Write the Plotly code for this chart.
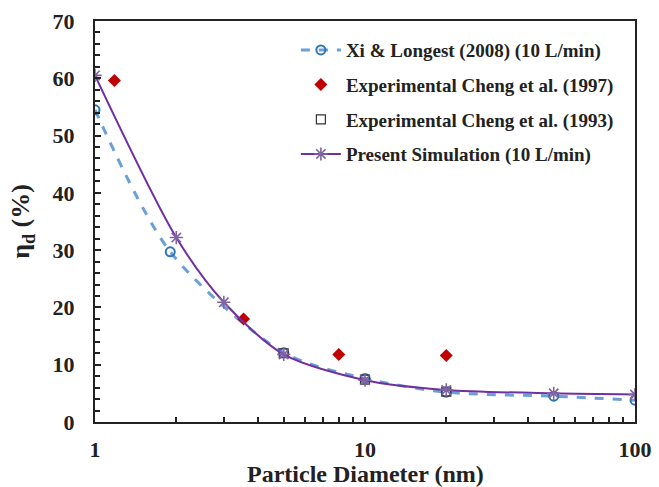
import plotly.graph_objects as go

# Deposition efficiency vs particle diameter
xi_d = [1, 1.9, 5, 10, 20, 50, 100]
xi_eff = [54.5, 29.7, 12.1, 7.6, 5.2, 4.5, 3.8]

cheng97_d = [1.18, 3.55, 8, 20]
cheng97_eff = [59.6, 18.0, 11.8, 11.6]

cheng93_d = [5, 10, 20]
cheng93_eff = [12.0, 7.4, 5.3]

sim_d = [1, 2, 3, 5, 10, 20, 50, 100]
sim_eff = [60.5, 32.2, 20.9, 11.8, 7.3, 5.6, 5.0, 4.8]

x_major = [1, 10, 100]
x_minor = [m * d for d in (1, 10) for m in range(2, 10)]

serif = "Liberation Serif"
ink = "#222222"

fig = go.Figure()

fig.add_trace(go.Scatter(
    x=xi_d, y=xi_eff, mode="lines+markers",
    name="Xi & Longest (2008) (10 L/min)", legendgroup="a",
    line=dict(color="#6A9FD8", width=3, dash="dash", shape="spline", smoothing=0.8),
    marker=dict(symbol="circle-open", size=9, color="#2E75B6", line=dict(width=2, color="#2E75B6")),
))
fig.add_trace(go.Scatter(
    x=cheng97_d, y=cheng97_eff, mode="markers",
    name="Experimental Cheng et al. (1997)", legendgroup="b",
    marker=dict(symbol="diamond", size=10, color="#C00000"),
))
fig.add_trace(go.Scatter(
    x=cheng93_d, y=cheng93_eff, mode="markers",
    name="Experimental Cheng et al. (1993)", legendgroup="c",
    marker=dict(symbol="square-open", size=9, color="#333333", line=dict(width=1.2, color="#333333")),
))
fig.add_trace(go.Scatter(
    x=sim_d, y=sim_eff, mode="lines+markers",
    name="Present Simulation (10 L/min)", legendgroup="d",
    line=dict(color="#7030A0", width=2, shape="spline", smoothing=0.8),
    marker=dict(symbol="asterisk-open", size=11, color="#8064A2", line=dict(width=1.6, color="#8064A2")),
))

fig.update_layout(
    width=659, height=487,
    margin=dict(l=95, r=24, t=21, b=65),
    paper_bgcolor="white", plot_bgcolor="white",
    font=dict(family=serif, color=ink),
    showlegend=True,
    legend=dict(
        x=0.372, y=0.975, xanchor="left", yanchor="top",
        bgcolor="rgba(0,0,0,0)",
        font=dict(family=serif, size=19, color=ink, weight="bold"),
        tracegroupgap=7, itemwidth=40,
    ),
    xaxis=dict(
        type="log", range=[0, 2], automargin=False,
        tickvals=x_major, ticktext=[str(v) for v in x_major],
        ticks="inside", ticklen=5, tickwidth=1.5, tickcolor=ink,
        minor=dict(tickvals=x_minor, ticks="inside", ticklen=5, tickwidth=1.5, tickcolor=ink, showgrid=False),
        showgrid=False, zeroline=False,
        showline=True, linewidth=2, linecolor=ink, mirror=True,
        tickfont=dict(family=serif, size=22, weight="bold", color=ink),
        ticklabelstandoff=7,
    ),
    yaxis=dict(
        range=[0, 70], dtick=10, automargin=False,
        ticks="inside", ticklen=6, tickwidth=1.5, tickcolor=ink,
        minor=dict(dtick=2, ticks="inside", ticklen=5, tickwidth=1.5, tickcolor=ink, showgrid=False),
        showgrid=False, zeroline=False,
        showline=True, linewidth=2, linecolor=ink, mirror=True,
        tickfont=dict(family=serif, size=22, weight="bold", color=ink),
        ticklabelstandoff=14,
        title=dict(text="η<sub>d</sub> (%)",
                   font=dict(family=serif, size=26, weight="bold", color=ink)),
    ),
    annotations=[dict(
        text="Particle Diameter (nm)", xref="paper", yref="paper",
        x=0.5, y=0, xanchor="center", yanchor="top", yshift=-37,
        showarrow=False,
        font=dict(family=serif, size=24, weight="bold", color=ink),
    )],
)

fig.write_html("out.html")
